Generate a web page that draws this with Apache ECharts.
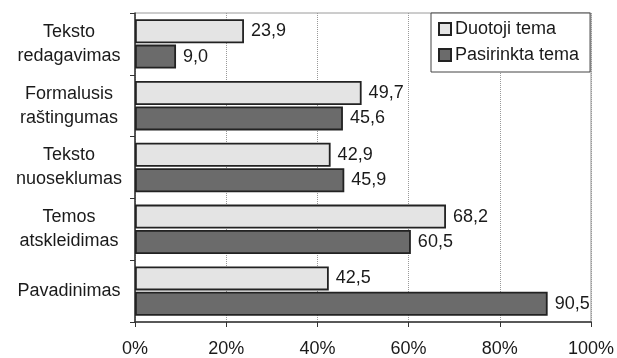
<!DOCTYPE html>
<html><head><meta charset="utf-8">
<script src="https://cdn.jsdelivr.net/npm/echarts@6/dist/echarts.min.js"></script>
<style>html,body{margin:0;padding:0;background:#fff}#c{width:617px;height:358px}</style>
</head><body><div id="c"></div>
<script>
const categories = ['Teksto\nredagavimas', 'Formalusis\nraštingumas', 'Teksto\nnuoseklumas', 'Temos\natskleidimas', 'Pavadinimas'];
const seriesNames = ['Duotoji tema', 'Pasirinkta tema'];
const duotoji = [23.9, 49.7, 42.9, 68.2, 42.5];
const pasirinkta = [9.0, 45.6, 45.9, 60.5, 90.5];
const xTicks = [0, 20, 40, 60, 80, 100];

const FONT = "'Liberation Sans', Arial, sans-serif";
const chart = echarts.init(document.getElementById('c'));
function fmt(v){ return v.toFixed(1).replace('.', ','); }
function barSeries(name, data, color){
  return {
    name, type: 'bar', data, barWidth: 24, barGap: '6%', barCategoryGap: '20%',
    itemStyle: { color, borderColor: '#222', borderWidth: 1.8 },
    label: { show: true, position: 'right', distance: 7, color: '#1a1a1a',
      fontFamily: FONT, fontSize: 18, formatter: p => fmt(p.value) }
  };
}
chart.setOption({
  animation: false,
  grid: { left: 135, right: 25, top: 13, bottom: 35, show: true, borderColor: '#9a9a9a', borderWidth: 1 },
  legend: {
    orient: 'vertical', left: 431, top: 13, data: seriesNames,
    backgroundColor: '#fff', borderColor: '#444', borderWidth: 1,
    padding: [7, 11, 8, 7], itemGap: 8, itemWidth: 12, itemHeight: 12, icon: 'rect',
    textStyle: { fontFamily: FONT, fontSize: 18, color: '#1a1a1a', padding: [0, 0, 0, -1] }
  },
  xAxis: {
    type: 'value', min: 0, max: 100, interval: 20,
    axisLine: { show: true, lineStyle: { color: '#333', width: 1.5 } },
    axisTick: { show: true, length: 5, lineStyle: { color: '#333' } },
    axisLabel: { margin: 18, fontFamily: FONT, fontSize: 18, color: '#1a1a1a', formatter: v => v + '%' },
    splitLine: { show: true, lineStyle: { type: 'dotted', color: '#999', width: 1 } }
  },
  yAxis: {
    type: 'category', data: categories, inverse: true,
    axisLine: { show: true, lineStyle: { color: '#333', width: 1.5 } },
    axisTick: { show: true, length: 5, lineStyle: { color: '#333' } },
    axisLabel: { margin: 66, align: 'center', fontFamily: FONT, fontSize: 18, lineHeight: 24, color: '#1a1a1a' }
  },
  series: [
    barSeries(seriesNames[0], duotoji, '#e4e4e4'),
    barSeries(seriesNames[1], pasirinkta, '#6b6b6b')
  ]
});
</script></body></html>
